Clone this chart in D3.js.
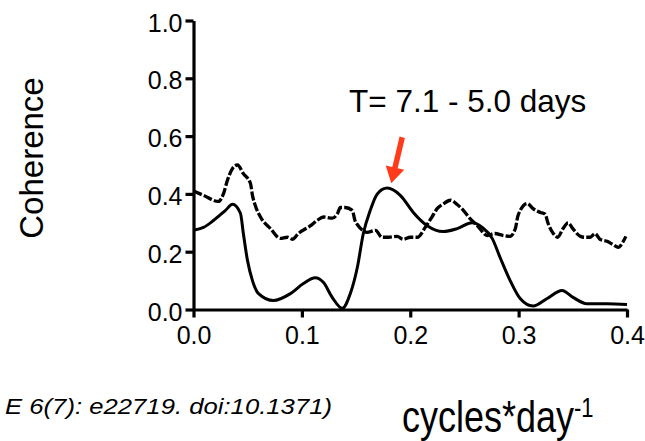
<!DOCTYPE html>
<html>
<head>
<meta charset="utf-8">
<script src="https://cdn.jsdelivr.net/npm/d3@7"></script>
<style>
  html, body { margin: 0; padding: 0; background: #fff; }
  svg { display: block; font-family: "Liberation Sans", Arial, Helvetica, sans-serif; }
</style>
</head>
<body>
<svg id="chart" width="645" height="441"></svg>
<script>
// Coherence spectrum: frequency (cycles/day) vs coherence
const solidFreq = [0.000, 0.0092, 0.0184, 0.0295, 0.036, 0.0433, 0.046, 0.0498, 0.0544, 0.060, 0.0737, 0.0894, 0.1014, 0.1124, 0.1198, 0.128, 0.1373, 0.1447, 0.1512, 0.1567, 0.1631, 0.1696, 0.1788, 0.1908, 0.2028, 0.2157, 0.2304, 0.2433, 0.2571, 0.2664, 0.2756, 0.2829, 0.2922, 0.3014, 0.3134, 0.3263, 0.3401, 0.3502, 0.3631, 0.3816, 0.400];
const solidCoh  = [0.274, 0.284, 0.308, 0.343, 0.364, 0.333, 0.263, 0.17, 0.10, 0.055, 0.031, 0.055, 0.09, 0.11, 0.094, 0.042, 0.004, 0.055, 0.146, 0.263, 0.343, 0.40, 0.42, 0.395, 0.336, 0.29, 0.27, 0.28, 0.30, 0.284, 0.246, 0.18, 0.10, 0.038, 0.012, 0.038, 0.066, 0.042, 0.02, 0.02, 0.017];

const dashFreq = [0.000, 0.0092, 0.023, 0.0276, 0.0313, 0.036, 0.0406, 0.046, 0.0525, 0.0544, 0.057, 0.0618, 0.071, 0.080, 0.0866, 0.0912, 0.0968, 0.108, 0.114, 0.120, 0.128, 0.133, 0.1355, 0.140, 0.1465, 0.149, 0.152, 0.156, 0.160, 0.168, 0.174, 0.180, 0.188, 0.1935, 0.200, 0.2065, 0.214, 0.220, 0.225, 0.230, 0.237, 0.243, 0.249, 0.255, 0.262, 0.271, 0.278, 0.286, 0.292, 0.297, 0.2995, 0.308, 0.313, 0.320, 0.3245, 0.327, 0.332, 0.336, 0.341, 0.3456, 0.350, 0.357, 0.361, 0.366, 0.3705, 0.375, 0.3816, 0.387, 0.392, 0.396, 0.399];
const dashCoh  = [0.41, 0.395, 0.374, 0.40, 0.447, 0.488, 0.50, 0.47, 0.437, 0.395, 0.36, 0.32, 0.28, 0.246, 0.25, 0.243, 0.263, 0.29, 0.308, 0.32, 0.316, 0.333, 0.353, 0.353, 0.343, 0.308, 0.29, 0.274, 0.267, 0.274, 0.25, 0.25, 0.253, 0.243, 0.25, 0.25, 0.285, 0.32, 0.35, 0.364, 0.378, 0.364, 0.343, 0.315, 0.29, 0.256, 0.263, 0.256, 0.253, 0.28, 0.326, 0.367, 0.35, 0.336, 0.33, 0.30, 0.263, 0.25, 0.28, 0.30, 0.28, 0.253, 0.25, 0.25, 0.263, 0.243, 0.236, 0.225, 0.215, 0.232, 0.253];

const xTicks = [0.0, 0.1, 0.2, 0.3, 0.4];
const yTicks = [0.0, 0.2, 0.4, 0.6, 0.8, 1.0];

// Period band annotation: arrow from label down to the coherence peak
const arrowFrom = [0.1926, 0.596];
const arrowTo   = [0.1825, 0.437];
const annotationText = "T= 7.1 - 5.0 days";

const svg = d3.select("#chart");

const x = d3.scaleLinear().domain([0, 0.4]).range([193.5, 627]);
const y = d3.scaleLinear().domain([0, 1]).range([309.5, 20.5]);

const line = d3.line()
  .x(d => x(d[0]))
  .y(d => y(d[1]))
  .curve(d3.curveMonotoneX);

// curves
svg.append("path")
  .datum(d3.zip(dashFreq, dashCoh))
  .attr("d", line)
  .attr("fill", "none")
  .attr("stroke", "#000")
  .attr("stroke-width", 3.3)
  .attr("stroke-dasharray", "9,2.2")
  .attr("stroke-linejoin", "round");

svg.append("path")
  .datum(d3.zip(solidFreq, solidCoh))
  .attr("d", line)
  .attr("fill", "none")
  .attr("stroke", "#000")
  .attr("stroke-width", 3)
  .attr("stroke-linejoin", "round");

// axes
const xAxis = svg.append("g")
  .attr("transform", `translate(0,${y(0)})`)
  .call(d3.axisBottom(x).tickValues(xTicks).tickFormat(d3.format(".1f")).tickSize(8).tickSizeOuter(0).tickPadding(9));

const yAxis = svg.append("g")
  .attr("transform", `translate(${x(0)},0)`)
  .call(d3.axisLeft(y).tickValues(yTicks).tickFormat(d3.format(".1f")).tickSize(8).tickSizeOuter(0).tickPadding(3));

[xAxis, yAxis].forEach(g => {
  g.select(".domain").attr("stroke", "#000").attr("stroke-width", 3.2);
  g.selectAll(".tick line").attr("stroke", "#000").attr("stroke-width", 3.2);
  g.selectAll(".tick text")
    .attr("fill", "#000")
    .style("font-size", "25px")
    .style("font-family", "\"Liberation Sans\", Arial, sans-serif");
});
yAxis.selectAll(".tick text").attr("dy", "0.42em");

// axis titles
svg.append("text")
  .attr("transform", "translate(43,158) rotate(-90)")
  .attr("text-anchor", "middle")
  .style("font-size", "33px")
  .text("Coherence");

const xt = svg.append("text")
  .attr("transform", "translate(402,432) scale(1,1.22)")
  .style("font-size", "36px");
xt.append("tspan").text("cycles*day");
xt.append("tspan").attr("dy", "-0.55em").style("font-size", "22px").text("-1");

// annotation text and arrow
svg.append("text")
  .attr("x", 349)
  .attr("y", 112)
  .style("font-size", "31.5px")
  .text(annotationText);

const ax0 = x(arrowFrom[0]), ay0 = y(arrowFrom[1]);
const ax1 = x(arrowTo[0]),   ay1 = y(arrowTo[1]);
const ang = Math.atan2(ay1 - ay0, ax1 - ax0);
const headLen = 16, headHalf = 9.5;
const bx = ax1 - headLen * Math.cos(ang), by = ay1 - headLen * Math.sin(ang);
const px = -Math.sin(ang), py = Math.cos(ang);
const red = "#ff3b1c";

svg.append("line")
  .attr("x1", ax0).attr("y1", ay0)
  .attr("x2", bx + 2 * Math.cos(ang)).attr("y2", by + 2 * Math.sin(ang))
  .attr("stroke", red)
  .attr("stroke-width", 5.5);

svg.append("path")
  .attr("d", `M${ax1},${ay1} L${bx + headHalf * px},${by + headHalf * py} L${bx - headHalf * px},${by - headHalf * py} Z`)
  .attr("fill", red);

// source citation
svg.append("text")
  .attr("x", 332)
  .attr("y", 414)
  .attr("text-anchor", "end")
  .attr("textLength", 327)
  .attr("lengthAdjust", "spacingAndGlyphs")
  .style("font-size", "22px")
  .style("font-style", "italic")
  .text("E 6(7): e22719. doi:10.1371)");
</script>
</body>
</html>
